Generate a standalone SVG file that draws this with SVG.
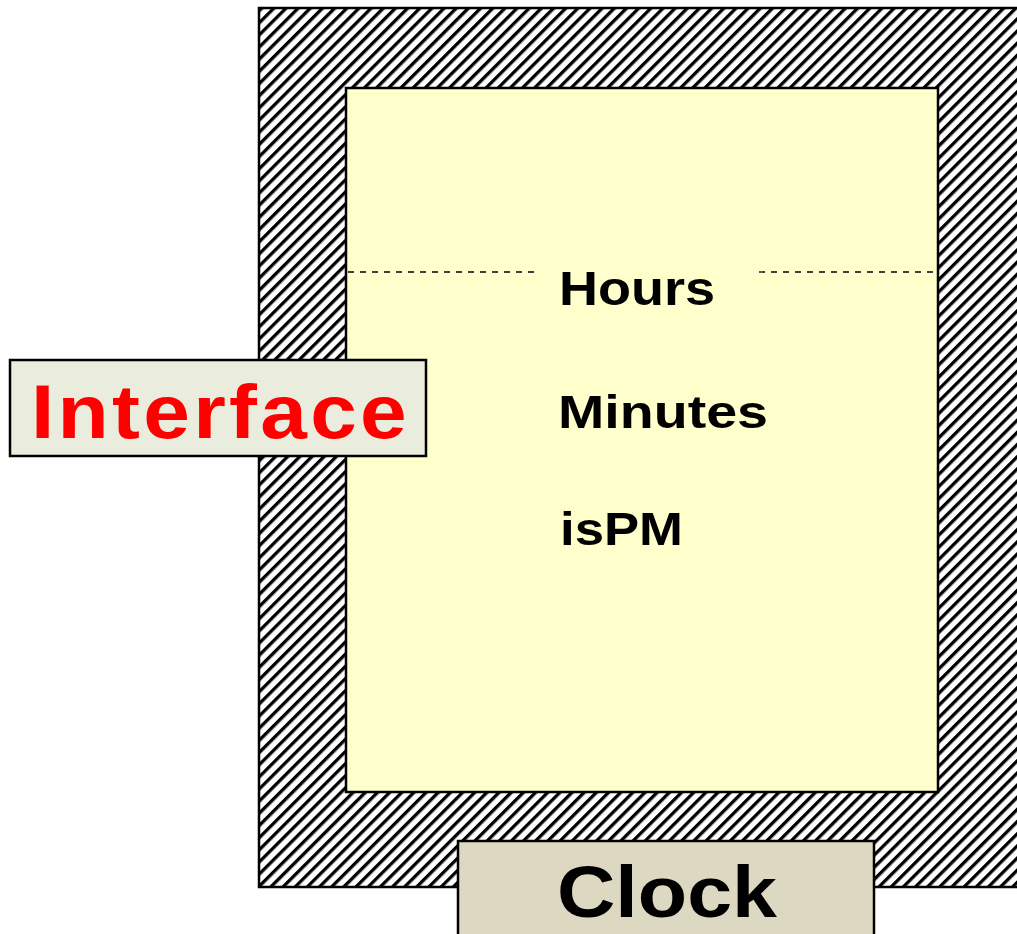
<svg xmlns="http://www.w3.org/2000/svg" width="1017" height="934" viewBox="0 0 1017 934">
  <defs>
    <!-- diagonal hatch used for the outer shell -->
    <pattern id="hatch" patternUnits="userSpaceOnUse" width="8.6" height="8.6" patternTransform="rotate(45)">
      <rect width="8.6" height="8.6" fill="#ffffff"/>
      <rect x="0" y="0" width="3.3" height="8.6" fill="#000000"/>
    </pattern>
    <style>
      .lbl { font-family: "Liberation Sans", Arial, sans-serif; font-weight: bold; fill: #000; }
      .box { stroke: #000; stroke-width: 2.5; }
      .sep { stroke: #000; stroke-width: 1.3; stroke-dasharray: 6 6; fill: none; }
    </style>
  </defs>
  <rect width="1017" height="934" fill="#ffffff"/>

  <!-- outer protected shell -->
  <g id="shell">
    <rect x="259" y="8" width="800" height="879" fill="url(#hatch)" stroke="#000" stroke-width="2.5"/>
  </g>

  <!-- inner data area -->
  <g id="data">
    <rect x="346" y="88" width="592" height="704" fill="#FFFFCC" class="box"/>
    <line x1="348" y1="272" x2="537" y2="272" class="sep"/>
    <line x1="759" y1="272" x2="936" y2="272" class="sep"/>
    <text class="lbl" x="559" y="305" font-size="48" textLength="156" lengthAdjust="spacingAndGlyphs">Hours</text>
    <text class="lbl" x="558" y="428" font-size="46" textLength="210" lengthAdjust="spacingAndGlyphs">Minutes</text>
    <text class="lbl" x="560" y="545" font-size="46" textLength="123" lengthAdjust="spacingAndGlyphs">isPM</text>
  </g>

  <!-- interface label -->
  <g id="interface">
    <rect x="10" y="360" width="416" height="96" fill="#EAEDDD" class="box"/>
    <text class="lbl" x="31" y="438" font-size="76" letter-spacing="3" style="fill:#FF0000" textLength="379" lengthAdjust="spacingAndGlyphs">Interface</text>
  </g>

  <!-- class name label -->
  <g id="clock">
    <rect x="458" y="841" width="416" height="110" fill="#DCD8C2" class="box"/>
    <text class="lbl" x="557" y="917" font-size="72" textLength="220" lengthAdjust="spacingAndGlyphs">Clock</text>
  </g>
</svg>
